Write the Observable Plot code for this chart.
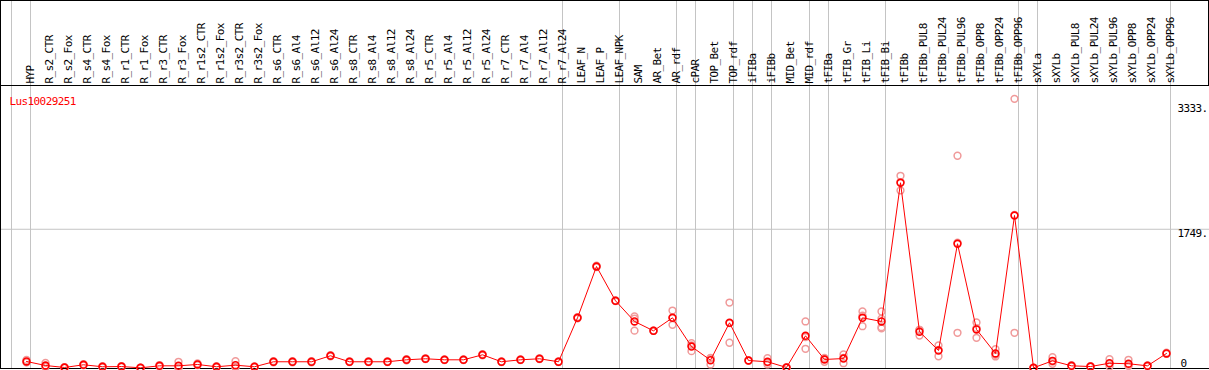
<!DOCTYPE html>
<html><head><meta charset="utf-8">
<script src="https://cdn.jsdelivr.net/npm/d3@7"></script>
<script src="https://cdn.jsdelivr.net/npm/@observablehq/plot@0.6"></script>
<style>
html,body{margin:0;padding:0;background:#fff;}
#chart{width:1209px;height:370px;overflow:hidden;}
#chart text{letter-spacing:-0.6px;}
</style></head><body><div id="chart"></div>
<script>
const title = "Lus10029251";
const categories = ["HYP","R_s2_CTR","R_s2_Fox","R_s4_CTR","R_s4_Fox","R_r1_CTR","R_r1_Fox","R_r3_CTR","R_r3_Fox","R_r1s2_CTR","R_r1s2_Fox","R_r3s2_CTR","R_r3s2_Fox","R_s6_CTR","R_s6_Al4","R_s6_Al12","R_s6_Al24","R_s8_CTR","R_s8_Al4","R_s8_Al12","R_s8_Al24","R_r5_CTR","R_r5_Al4","R_r5_Al12","R_r5_Al24","R_r7_CTR","R_r7_Al4","R_r7_Al12","R_r7_Al24","LEAF_N","LEAF_P","LEAF_NPK","SAM","AR_Bet","AR_rdf","cPAR","TOP_Bet","TOP_rdf","iFIBa","iFIBb","MID_Bet","MID_rdf","tFIBa","tFIB_Gr","tFIB_Li","tFIB_Bi","tFIBb","tFIBb_PUL8","tFIBb_PUL24","tFIBb_PUL96","tFIBb_OPP8","tFIBb_OPP24","tFIBb_OPP96","sXYLa","sXYLb","sXYLb_PUL8","sXYLb_PUL24","sXYLb_PUL96","sXYLb_OPP8","sXYLb_OPP24","sXYLb_OPP96"];
const means = [80,29,4,38,13,16,0,25,25,42,13,33,13,76,76,76,152,76,76,76,101,114,101,101,164,76,101,114,76,631,1279,846,585,467,631,268,96,568,92,76,4,404,105,117,631,585,2336,455,218,1566,484,181,1923,0,88,25,16,58,51,25,181];
const replicates = [[100,72,68],[63,15,10],[8,2,2],[46,34,34],[20,10,9],[22,14,12],[2,0,0],[35,20,20],[76,0,0],[55,38,33],[20,10,9],[83,10,6],[18,11,10],[84,74,70],[84,74,70],[84,74,70],[160,150,146],[82,74,72],[82,74,72],[82,74,72],[110,98,95],[120,112,110],[106,100,97],[106,100,97],[172,162,158],[80,75,73],[106,100,97],[120,112,110],[80,75,73],[640,628,625],[1290,1275,1272],[850,845,843],[648,622,469],[470,466,465],[723,631,543],[311,283,210],[126,120,42],[824,565,316],[95,90,90],[121,65,42],[6,3,3],[585,387,240],[126,113,76],[168,125,58],[711,657,525],[711,620,513,497],[2424,2345,2239],[480,477,408],[282,226,146],[2677,1579,442],[572,501,379],[235,165,143],[3396,1931,442],[0,0,0],[134,79,51],[32,22,21],[20,15,13],[109,49,16],[101,30,22],[30,23,22],[190,178,175]];
const separatorsAfter = [-1,0,28,31,34,35,37,38,39,41,42,45,52,53,60];
const yTicks = [0,1749,3333];
const yTickLabels = ["0","1749.","3333."];
const gridTicks = [1749];

const meanData = categories.map((c,i)=>({i, c, v: means[i]}));
const repData = replicates.flatMap((vals,i)=>vals.map(v=>({i, v})));
const tickData = yTicks.map((v,i)=>({v, label: yTickLabels[i]}));
const mono = "DejaVu Sans Mono";

const plot = Plot.plot({
  width: 1209, height: 370,
  marginTop: 0, marginBottom: 0, marginLeft: 0, marginRight: 0,
  style: {fontFamily: mono, fontSize: "11px", background: "white"},
  x: {type: "linear", domain: [0, 60], range: [26, 1166], axis: null},
  y: {type: "linear", domain: [0, 3333], range: [367.3, 103.3], axis: null},
  marks: [
    Plot.ruleY(gridTicks, {stroke: "#c4c4c4"}),
    Plot.ruleX(separatorsAfter, {x: d => d, dx: 4, stroke: "#c4c4c4", insetBottom: 2}),
    Plot.frame({stroke: "black", insetRight: -10, insetBottom: 2}),
    Plot.frame({stroke: "black", insetRight: 1, insetBottom: 285}),
    Plot.text(categories, {x: (d,i) => i, text: d => d, frameAnchor: "top", dy: 83, rotate: -90, textAnchor: "start", fill: "black"}),
    Plot.text([title], {text: d => d, frameAnchor: "top-left", dx: 9, dy: 97, textAnchor: "start", fill: "red"}),
    Plot.text(tickData.filter(d => d.v !== 0), {y: "v", text: "label", frameAnchor: "right", dx: -32, textAnchor: "start", lineAnchor: "top", fill: "black"}),
    Plot.text(tickData.filter(d => d.v === 0), {y: "v", text: "label", frameAnchor: "right", dx: -29, textAnchor: "start", lineAnchor: "bottom", dy: -1, fill: "black"}),
    Plot.dot(repData, {x: "i", y: "v", r: 3.4, stroke: "#f09a9a", strokeWidth: 1.5}),
    Plot.line(meanData, {x: "i", y: "v", stroke: "red", strokeWidth: 1}),
    Plot.dot(meanData, {x: "i", y: "v", r: 3.4, stroke: "red", strokeWidth: 1.6})
  ]
});
document.getElementById("chart").appendChild(plot);
</script></body></html>
